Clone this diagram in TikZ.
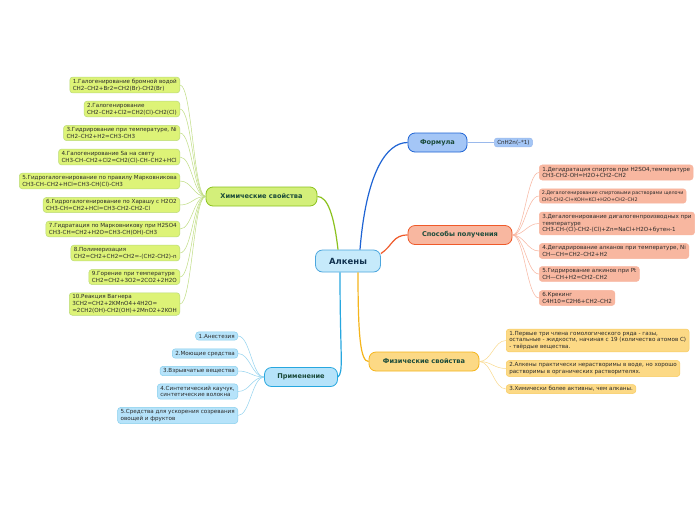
\documentclass[tikz,border=0pt]{standalone}
\usepackage{fontspec}
\setmainfont{DejaVu Sans}
\usepackage{tikz}
\usetikzlibrary{positioning}

\definecolor{alkfill}{HTML}{C6EAFB}
\definecolor{alkdraw}{HTML}{4BA6DE}
\definecolor{formfill}{HTML}{A4C6F6}
\definecolor{formdraw}{HTML}{1F64D4}
\definecolor{sposfill}{HTML}{F8B7A0}
\definecolor{sposdraw}{HTML}{EF5A2A}
\definecolor{chemfill}{HTML}{D3EF7A}
\definecolor{chemdraw}{HTML}{8CC21F}
\definecolor{primfill}{HTML}{B6E3FA}
\definecolor{primdraw}{HTML}{27A7DF}
\definecolor{physfill}{HTML}{FCD985}
\definecolor{physdraw}{HTML}{F5B51C}
\definecolor{topictext}{HTML}{1A4A3A}
\definecolor{roottext}{HTML}{10324F}
\definecolor{leaftext}{HTML}{2A2A2A}

\tikzset{
	root/.style={draw=alkdraw, fill=alkfill, rounded corners=7pt, line width=0.8pt, minimum width=65pt, minimum height=22pt, text=roottext, font=\fontsize{8.5}{10}\selectfont\bfseries},
	topic/.style={rounded corners=7pt, line width=0.8pt, minimum height=19pt, text=topictext, font=\fontsize{6.6}{8}\selectfont\bfseries},
	leaf/.style={rounded corners=3pt, line width=0.5pt, inner xsep=3pt, inner ysep=2pt, align=left, text=leaftext, font=\fontsize{5.6}{6.8}\selectfont},
	chemleaf/.style={leaf, draw=chemdraw!60, fill=chemfill!85!yellow!90!white},
	sposleaf/.style={leaf, draw=sposdraw!45, fill=sposfill},
	primleaf/.style={leaf, draw=primdraw!55, fill=primfill},
	physleaf/.style={leaf, draw=physdraw!70, fill=physfill},
	formleaf/.style={leaf, draw=formdraw!45, fill=formfill},
	twig/.style={line width=0.5pt, out=#1, in=#1+180, distance=12pt}
}

\begin{document}
\begin{tikzpicture}[x=1pt, y=-1pt]
	\useasboundingbox[fill=white] (0,0) rectangle (696,520);

	\node[root] (alk) at (348,261) {Алкены};
	\node[topic, draw=formdraw, fill=formfill, minimum width=59pt] (form) at (437.5,142.5) {Формула};
	\node[topic, draw=sposdraw, fill=sposfill, minimum width=104pt] (sposob) at (460,235) {Способы получения};
	\node[topic, draw=chemdraw, fill=chemfill, minimum width=111pt] (chem) at (261.5,196.5) {Химические свойства};
	\node[topic, draw=primdraw, fill=primfill, minimum width=73pt] (prim) at (301,377) {Применение};
	\node[topic, draw=physdraw, fill=physfill, minimum width=110pt] (phys) at (424,361.5) {Физические свойства};

	% formula
	\node[formleaf, anchor=west] (fm1) at (494,142.5) {CnH2n(--*1)};

	% chemical properties
	\node[chemleaf, anchor=east] (h1) at (180,85) {1.Галогенирование бромной водой\\CH2--CH2+Br2=CH2(Br)-CH2(Br)};
	\node[chemleaf, anchor=east] (h2) at (180,109) {2.Галогенирование\\CH2--CH2+Cl2=CH2(Cl)-CH2(Cl)};
	\node[chemleaf, anchor=east] (h3) at (180,133) {3.Гидрирование при температуре, Ni\\CH2--CH2+H2=CH3-CH3};
	\node[chemleaf, anchor=east] (h4) at (180,157) {4.Галогенирование Sa на свету\\CH3-CH--CH2+Cl2=CH2(Cl)-CH--CH2+HCl};
	\node[chemleaf, anchor=east] (h5) at (180,181) {5.Гидрогалогенирование по правилу Марковникова\\CH3-CH--CH2+HCl=CH3-CH(Cl)-CH3};
	\node[chemleaf, anchor=east] (h6) at (180,205) {6.Гидрогалогенирование по Харашу с H2O2\\CH3-CH=CH2+HCl=CH3-CH2-CH2-Cl};
	\node[chemleaf, anchor=east] (h7) at (180,229) {7.Гидратация по Марковникову при H2SO4\\CH3-CH=CH2+H2O=CH3-CH(OH)-CH3};
	\node[chemleaf, anchor=east] (h8) at (180,253) {8.Полимеризация\\CH2=CH2+CH2=CH2=-(CH2-CH2)-n};
	\node[chemleaf, anchor=east] (h9) at (180,277) {9.Горение при температуре\\CH2=CH2+3O2=2CO2+2H2O};
	\node[chemleaf, anchor=east] (h10) at (180,304) {10.Реакция Вагнера\\3CH2=CH2+2KMnO4+4H2O=\\=2CH2(OH)-CH2(OH)+2MnO2+2KOH};

	% ways of obtaining
	\node[sposleaf, anchor=west] (s1) at (539,172.5) {1.Дегидратация спиртов при H2SO4,температуре\\CH3-CH2-OH=H2O+CH2--CH2};
	\node[sposleaf, anchor=west, font=\fontsize{4.85}{6.8}\selectfont, inner xsep=2.5pt] (s2) at (539,196) {2.Дегалогенирование спиртовыми растворами щелочи\\CH3-CH2-Cl+KOH=KCl+H2O+CH2--CH2};
	\node[sposleaf, anchor=west] (s3) at (539,223.5) {3.Дегалогенирование дигалогенпроизводных при\\температуре\\CH3-CH-(Cl)-CH2-(Cl)+Zn=NaCl+H2O+бутен-1};
	\node[sposleaf, anchor=west] (s4) at (539,251) {4.Дегидрирование алканов при температуре, Ni\\CH---CH=CH2--CH2+H2};
	\node[sposleaf, anchor=west] (s5) at (539,274) {5.Гидрирование алкинов при Pt\\CH---CH+H2=CH2--CH2};
	\node[sposleaf, anchor=west] (s6) at (539,298) {6.Крекинг\\C4H10=C2H6+CH2--CH2};

	% uses
	\node[primleaf, anchor=east] (p1) at (238,336) {1.Анестезия};
	\node[primleaf, anchor=east] (p2) at (238,353.5) {2.Моющие средства};
	\node[primleaf, anchor=east] (p3) at (238,371) {3.Взрывчатые вещества};
	\node[primleaf, anchor=east] (p4) at (238,391.5) {4.Синтетический каучук,\\синтетические волокна};
	\node[primleaf, anchor=east] (p5) at (238,415.5) {5.Средства для ускорения созревания\\овощей и фруктов};

	% physical properties
	\node[physleaf, anchor=west] (f1) at (506,340.5) {1.Первые три члена гомологического ряда - газы,\\остальные - жидкости, начиная с 19 (количество атомов C)\\- твёрдые вещества.};
	\node[physleaf, anchor=west] (f2) at (506,368.5) {2.Алкены практически нерастворимы в воде, но хорошо\\растворимы в органических растворителях.};
	\node[physleaf, anchor=west] (f3) at (506,389) {3.Химически более активны, чем алканы.};

	% main branches
	\path[draw=formdraw, line width=1.2pt] ([xshift=12pt]alk.north) .. controls +(6,-75) and +(-22,0) .. (form.west);
	\path[draw=sposdraw, line width=1.2pt] ([yshift=-4pt]alk.north east) .. controls +(12,-8) and +(-15,0) .. (sposob.west);
	\path[draw=chemdraw, line width=1.2pt] ([xshift=-10pt]alk.north) .. controls +(-4,-35) and +(10,0) .. (chem.east);
	\path[draw=primdraw, line width=1.2pt] ([xshift=-8pt]alk.south) .. controls +(0,85) and +(6,-5) .. (prim.east);
	\path[draw=physdraw, line width=1.2pt] ([xshift=10pt]alk.south) .. controls +(0,65) and +(-8,0) .. (phys.west);

	% twigs
	\path[draw=formdraw!45, line width=0.6pt] (form.east) edge (fm1.west);

	\path[draw=chemdraw!55] (chem.west) edge[twig=180] (h1.east);
	\path[draw=chemdraw!55] (chem.west) edge[twig=180] (h2.east);
	\path[draw=chemdraw!55] (chem.west) edge[twig=180] (h3.east);
	\path[draw=chemdraw!55] (chem.west) edge[twig=180] (h4.east);
	\path[draw=chemdraw!55] (chem.west) edge[twig=180] (h5.east);
	\path[draw=chemdraw!55] (chem.west) edge[twig=180] (h6.east);
	\path[draw=chemdraw!55] (chem.west) edge[twig=180] (h7.east);
	\path[draw=chemdraw!55] (chem.west) edge[twig=180] (h8.east);
	\path[draw=chemdraw!55] (chem.west) edge[twig=180] (h9.east);
	\path[draw=chemdraw!55] (chem.west) edge[twig=180] (h10.east);

	\path[draw=sposdraw!45] (sposob.east) edge[twig=0] (s1.west);
	\path[draw=sposdraw!45] (sposob.east) edge[twig=0] (s2.west);
	\path[draw=sposdraw!45] (sposob.east) edge[twig=0] (s3.west);
	\path[draw=sposdraw!45] (sposob.east) edge[twig=0] (s4.west);
	\path[draw=sposdraw!45] (sposob.east) edge[twig=0] (s5.west);
	\path[draw=sposdraw!45] (sposob.east) edge[twig=0] (s6.west);

	\path[draw=primdraw!50] (prim.west) edge[twig=180] (p1.east);
	\path[draw=primdraw!50] (prim.west) edge[twig=180] (p2.east);
	\path[draw=primdraw!50] (prim.west) edge[twig=180] (p3.east);
	\path[draw=primdraw!50] (prim.west) edge[twig=180] (p4.east);
	\path[draw=primdraw!50] (prim.west) edge[twig=180] (p5.east);

	\path[draw=physdraw!50] (phys.east) edge[twig=0] (f1.west);
	\path[draw=physdraw!50] (phys.east) edge[twig=0] (f2.west);
	\path[draw=physdraw!50] (phys.east) edge[twig=0] (f3.west);
\end{tikzpicture}
\end{document}
